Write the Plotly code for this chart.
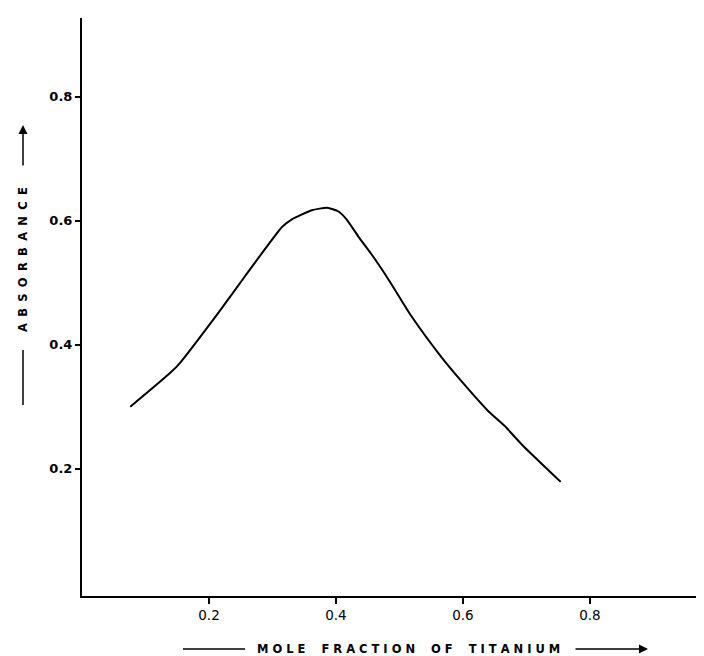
import plotly.graph_objects as go

# Data (mole fraction of titanium vs absorbance)
mole_fraction = [0.076, 0.136, 0.152, 0.215, 0.257, 0.315, 0.330, 0.362, 0.386,
                 0.404, 0.417, 0.435, 0.456, 0.483, 0.519, 0.567, 0.598, 0.640,
                 0.666, 0.693, 0.754]
absorbance = [0.300, 0.352, 0.368, 0.452, 0.511, 0.590, 0.602, 0.617, 0.621,
              0.615, 0.602, 0.575, 0.546, 0.505, 0.446, 0.379, 0.341, 0.293,
              0.269, 0.239, 0.179]

x_tick_vals = [0.2, 0.4, 0.6, 0.8]
x_tick_text = ["0.2", "0.4", "0.6", "0.8"]
y_tick_vals = [0.2, 0.4, 0.6, 0.8]
y_tick_text = ["0.2", "0.4", "0.6", "0.8"]

x_title = "MOLE FRACTION OF TITANIUM"
y_title = "ABSORBANCE"


def spaced(s, gap="\u00a0", word_gap="\u00a0\u00a0\u00a0\u00a0"):
    words = s.split(" ")
    return word_gap.join(gap.join(list(w)) for w in words)


fig = go.Figure()
fig.add_trace(go.Scatter(
    x=mole_fraction, y=absorbance, mode="lines",
    line=dict(color="black", width=2, shape="spline", smoothing=0.5),
    hoverinfo="skip", showlegend=False,
))

W, H = 704, 656
ml, mr, mt, mb = 74, 4, 10, 68

fig.update_layout(
    width=W, height=H,
    margin=dict(l=ml, r=mr, t=mt, b=mb),
    paper_bgcolor="white", plot_bgcolor="white",
    font=dict(family="DejaVu Sans", color="black"),
    showlegend=False,
)
fig.update_xaxes(
    range=[0, 0.986], tickvals=x_tick_vals, ticktext=x_tick_text,
    showline=True, linecolor="black", linewidth=2,
    ticks="outside", ticklen=6, tickwidth=1.5, tickcolor="black",
    showgrid=False, zeroline=False,
    tickfont=dict(family="DejaVu Sans", size=13.5, color="black"),
)
fig.update_yaxes(
    range=[-0.005, 0.927], tickvals=y_tick_vals, ticktext=y_tick_text,
    showline=True, linecolor="black", linewidth=2,
    ticks="outside", ticklen=5, tickwidth=1.5, tickcolor="black",
    showgrid=False, zeroline=False,
    tickfont=dict(family="DejaVu Sans", size=13, color="black", weight="bold"),
)

pw = W - ml - mr
ph = H - mt - mb


def px_to_paper_x(px):
    return (px - ml) / pw


def px_to_paper_y(py):
    return (H - mb - py) / ph


title_font = dict(family="DejaVu Sans", size=11.5, color="black", weight="bold")

# x-axis title with leading line and trailing arrow
fig.add_annotation(
    x=px_to_paper_x(400), y=px_to_paper_y(641), xref="paper", yref="paper",
    text=spaced(x_title), showarrow=False, font=title_font,
    xanchor="center", yanchor="middle",
)
fig.add_shape(type="line", xref="paper", yref="paper",
              x0=px_to_paper_x(175), x1=px_to_paper_x(237),
              y0=px_to_paper_y(641), y1=px_to_paper_y(641),
              line=dict(color="black", width=1.5))
fig.add_annotation(
    x=px_to_paper_x(640), y=px_to_paper_y(641), xref="paper", yref="paper",
    ax=-74, ay=0, text="", showarrow=True, arrowhead=2, arrowsize=1.2,
    arrowwidth=1.5, arrowcolor="black",
)

# y-axis title with leading line and arrow
fig.add_annotation(
    x=px_to_paper_x(15), y=px_to_paper_y(252), xref="paper", yref="paper",
    text=spaced(y_title, gap="\u00a0\u2009"), textangle=-90, showarrow=False,
    font=title_font, xanchor="center", yanchor="middle",
)
fig.add_shape(type="line", xref="paper", yref="paper",
              x0=px_to_paper_x(15), x1=px_to_paper_x(15),
              y0=px_to_paper_y(342), y1=px_to_paper_y(397),
              line=dict(color="black", width=1.5))
fig.add_annotation(
    x=px_to_paper_x(15), y=px_to_paper_y(117), xref="paper", yref="paper",
    ax=0, ay=42, text="", showarrow=True, arrowhead=2, arrowsize=1.2,
    arrowwidth=1.5, arrowcolor="black",
)

fig.write_html("out.html")
